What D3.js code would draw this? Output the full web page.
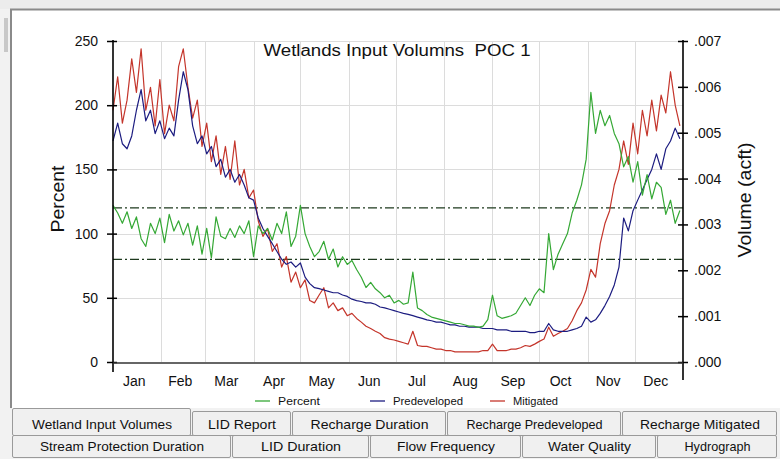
<!DOCTYPE html>
<meta charset="utf-8">
<script src="https://cdn.jsdelivr.net/npm/d3@7"></script>
<style>
  body { margin: 0; background: #f2f2f2; }
  text { font-family: "Liberation Sans", Arial, sans-serif; fill: #111; }
  .grid line { stroke: #dcdcdc; stroke-width: 1px; }
  .line { fill: none; stroke-width: 1.2px; stroke-linejoin: round; }
  .tab rect { fill: #f0f0f0; stroke: #9a9a9a; stroke-width: 1px; }
</style>
<body>
<script>

// months on the x axis (day of year where each month starts)
var months = ["Jan","Feb","Mar","Apr","May","Jun","Jul","Aug","Sep","Oct","Nov","Dec"];
var monthStart = [0,31,59,90,120,151,181,212,243,273,304,334,365];

// one value every 3 days
var percent = [122,116,108,117,104,113,96,90,108,100,112,93,115,102,110,99,108,91,106,84,
  104,81,113,98,96,104,97,106,100,110,82,106,100,104,95,108,100,117,90,98,
  122,100,90,82,86,94,80,88,74,82,76,79,72,66,58,62,57,54,50,52,
  46,48,45,46,70,42,40,37,35,34,33,32,31,30,30,29,28,28,27,28,
  33,52,36,34,35,36,38,44,50,44,52,57,54,100,72,84,92,100,116,126,
  138,158,210,178,196,184,192,178,170,152,160,140,156,130,146,127,140,136,115,126,
  108,118];

var predeveloped = [.00482,.00521,.00476,.00465,.00493,.00549,.00594,.00526,.00549,.00498,.00526,.00487,.00510,.00493,.00571,.00633,.00594,.00515,.00476,.00493,
  .00454,.00470,.00426,.00442,.00403,.00420,.00392,.00409,.00386,.00358,.00353,.00314,.00291,.00274,.00258,.00241,.00224,.00213,.00218,.00207,
  .00216,.00185,.00171,.00162,.00160,.00157,.00154,.00151,.00151,.00146,.00143,.00137,.00134,.00132,.00129,.00129,.00126,.00120,.00118,.00115,
  .00112,.00109,.00106,.00104,.00101,.00098,.00095,.00092,.00090,.00087,.00087,.00084,.00081,.00081,.00078,.00078,.00076,.00076,.00076,.00073,
  .00073,.00073,.00070,.00070,.00070,.00067,.00067,.00067,.00067,.00064,.00064,.00067,.00067,.00084,.00070,.00067,.00067,.00067,.00070,.00073,
  .00078,.00098,.00087,.00092,.00106,.00123,.00143,.00168,.00207,.00314,.00286,.00330,.00353,.00375,.00398,.00420,.00454,.00420,.00465,.00482,
  .00510,.00487];

var mitigated = [.00549,.00622,.00521,.00571,.00661,.00588,.00683,.00549,.00599,.00515,.00616,.00498,.00560,.00526,.00644,.00683,.00599,.00532,.00571,.00470,
  .00521,.00437,.00493,.00409,.00470,.00398,.00482,.00386,.00420,.00358,.00375,.00308,.00274,.00291,.00241,.00258,.00207,.00230,.00174,.00196,
  .00162,.00179,.00134,.00129,.00146,.00162,.00118,.00129,.00112,.00118,.00101,.00106,.00095,.00087,.00078,.00073,.00067,.00062,.00053,.00050,
  .00048,.00045,.00042,.00039,.00067,.00036,.00034,.00034,.00031,.00028,.00028,.00025,.00025,.00022,.00022,.00022,.00022,.00022,.00022,.00025,
  .00025,.00039,.00025,.00025,.00025,.00028,.00028,.00031,.00036,.00034,.00039,.00045,.00050,.00076,.00056,.00062,.00067,.00073,.00090,.00112,
  .00129,.00157,.00202,.00185,.00258,.00302,.00330,.00386,.00420,.00482,.00431,.00521,.00454,.00549,.00493,.00571,.00504,.00582,.00543,.00633,
  .00560,.00515];

// limit lines on the percent axis
var limits = [120, 80];

var leftTicks = [0,50,100,150,200,250];
var rightTicks = [0,.001,.002,.003,.004,.005,.006,.007];

var legendItems = ["Percent","Predeveloped","Mitigated"];
var colors = {"Percent": "#35a835", "Predeveloped": "#1c1c80", "Mitigated": "#c4352b"};

var tabsTop = ["Wetland Input Volumes","LID Report","Recharge Duration","Recharge Predeveloped","Recharge Mitigated"];
var tabsBottom = ["Stream Protection Duration","LID Duration","Flow Frequency","Water Quality","Hydrograph"];

var width = 780, height = 459;
var plotL = 113, plotR = 683, plotT = 41, plotB = 362;

var svg = d3.select("body").append("svg")
    .attr("width", width)
    .attr("height", height);

// window frame
svg.append("rect").attr("x", 0).attr("y", 0).attr("width", width).attr("height", 9).attr("fill", "#ececec");
svg.append("rect").attr("x", 4).attr("y", 18).attr("width", 4).attr("height", 34).attr("fill", "#c8c8c8");
svg.append("rect").attr("x", 11).attr("y", 9).attr("width", width - 11).attr("height", 399).attr("fill", "#fff");
svg.append("line").attr("x1", 10).attr("x2", width).attr("y1", 9.5).attr("y2", 9.5).attr("stroke", "#8a8a8a").attr("stroke-width", 2);
svg.append("line").attr("x1", 11).attr("x2", 11).attr("y1", 9).attr("y2", 408).attr("stroke", "#8a8a8a").attr("stroke-width", 2);

var x = d3.scaleLinear().domain([0, 365]).range([plotL, plotR]);
var yL = d3.scaleLinear().domain([0, 250]).range([plotB, plotT]);
var yR = d3.scaleLinear().domain([0, .007]).range([plotB, plotT]);

// grid
var grid = svg.append("g").attr("class", "grid");
grid.selectAll(".v").data(monthStart.slice(1, 12)).enter().append("line")
    .attr("x1", function(d) { return Math.round(x(d)) + .5; })
    .attr("x2", function(d) { return Math.round(x(d)) + .5; })
    .attr("y1", plotT).attr("y2", plotB);
grid.selectAll(".h").data(leftTicks.slice(1)).enter().append("line")
    .attr("x1", plotL).attr("x2", plotR)
    .attr("y1", function(d) { return Math.round(yL(d)) + .5; })
    .attr("y2", function(d) { return Math.round(yL(d)) + .5; });

// limit lines
svg.selectAll(".limit").data(limits).enter().append("line")
    .attr("x1", plotL).attr("x2", plotR)
    .attr("y1", function(d) { return yL(d); })
    .attr("y2", function(d) { return yL(d); })
    .attr("stroke", "#1e3a1e")
    .attr("stroke-width", 1.3)
    .attr("stroke-dasharray", "9,3,2,3");

// series
function day(d, i) { return x(i * 3); }
var lineR = d3.line().x(day).y(function(d) { return yR(d); });
var lineL = d3.line().x(day).y(function(d) { return yL(d); });

svg.append("path").datum(mitigated).attr("class", "line")
    .attr("stroke", colors["Mitigated"]).attr("d", lineR);
svg.append("path").datum(predeveloped).attr("class", "line")
    .attr("stroke", colors["Predeveloped"]).attr("d", lineR);
svg.append("path").datum(percent).attr("class", "line")
    .attr("stroke", colors["Percent"]).attr("d", lineL);

// axes
var axL = svg.append("g").attr("transform", "translate(" + plotL + ",0)")
    .call(d3.axisLeft(yL).tickValues(leftTicks).tickSize(6).tickPadding(9));
axL.select(".domain").remove();
axL.selectAll(".tick line").attr("x1", 4).attr("stroke", "#000").attr("stroke-width", 1.5);
axL.selectAll("text").style("font-size", "14px").attr("fill", "#222");

var axR = svg.append("g").attr("transform", "translate(" + plotR + ",0)")
    .call(d3.axisRight(yR).tickValues(rightTicks).tickSize(5).tickPadding(6)
      .tickFormat(function(d) { return d3.format(".3f")(d).replace(/^0/, ""); }));
axR.select(".domain").remove();
axR.selectAll(".tick line").attr("x1", -5).attr("stroke", "#000").attr("stroke-width", 1.5);
axR.selectAll("text").style("font-size", "14px").attr("fill", "#222");

svg.append("line").attr("x1", plotL).attr("x2", plotL).attr("y1", plotT - 1).attr("y2", 372)
    .attr("stroke", "#000").attr("stroke-width", 1.6);
svg.append("line").attr("x1", plotR).attr("x2", plotR).attr("y1", plotT - 1).attr("y2", 380)
    .attr("stroke", "#000").attr("stroke-width", 1.6);
svg.append("line").attr("x1", plotL).attr("x2", plotR).attr("y1", plotB + 1).attr("y2", plotB + 1)
    .attr("stroke", "#333").attr("stroke-width", 1.6);

// month labels
svg.selectAll(".month").data(months).enter().append("text")
    .attr("x", function(d, i) { return (x(monthStart[i]) + x(monthStart[i + 1])) / 2 - 3; })
    .attr("y", 386)
    .attr("text-anchor", "middle")
    .style("font-size", "14px")
    .attr("fill", "#222")
    .text(function(d) { return d; });

// titles
svg.append("text")
    .attr("x", 397).attr("y", 56)
    .attr("text-anchor", "middle")
    .attr("textLength", 267).attr("lengthAdjust", "spacingAndGlyphs")
    .style("font-size", "16px").style("white-space", "pre")
    .attr("fill", "#222")
    .text("Wetlands Input Volumns  POC 1");

svg.append("text")
    .attr("transform", "translate(64,199) rotate(-90)")
    .attr("text-anchor", "middle")
    .attr("textLength", 67).attr("lengthAdjust", "spacingAndGlyphs")
    .style("font-size", "18px")
    .text("Percent");

svg.append("text")
    .attr("transform", "translate(751,200) rotate(-90)")
    .attr("text-anchor", "middle")
    .attr("textLength", 115).attr("lengthAdjust", "spacingAndGlyphs")
    .style("font-size", "18px")
    .text("Volume (acft)");

// legend
var legendX = [255, 370, 490], legendW = [42, 70, 45];
var legend = svg.selectAll(".legend").data(legendItems).enter().append("g")
    .attr("transform", function(d, i) { return "translate(" + legendX[i] + ",401)"; });
legend.append("line").attr("x1", 0).attr("x2", 15)
    .attr("stroke", function(d) { return colors[d]; }).attr("stroke-width", 1.3);
legend.append("text").attr("x", 23).attr("y", 4)
    .attr("textLength", function(d, i) { return legendW[i]; })
    .attr("lengthAdjust", "spacingAndGlyphs")
    .style("font-size", "11px").attr("fill", "#333")
    .text(function(d) { return d; });

// tabs
var topEdges = [12, 192, 292, 447, 622, 778];
var bottomEdges = [12, 232, 370, 522, 657, 778];
var topTextW = [140, 68, 118, 136, 120];
var bottomTextW = [164, 80, 98, 83, 66];

function drawTabs(names, edges, widths, y0, h, selected) {
  var g = svg.append("g");
  var tab = g.selectAll(".tab").data(names).enter().append("g").attr("class", "tab");
  tab.append("rect")
      .attr("x", function(d, i) { return edges[i] + .5; })
      .attr("y", function(d, i) { return (i === selected ? y0 - 3 : y0) + .5; })
      .attr("width", function(d, i) { return edges[i + 1] - edges[i] - 2; })
      .attr("height", function(d, i) { return i === selected ? h + 3 : h; })
      .attr("rx", 1.5);
  tab.append("text")
      .attr("x", function(d, i) { return (edges[i] + edges[i + 1]) / 2; })
      .attr("y", y0 + h - 6)
      .attr("text-anchor", "middle")
      .attr("textLength", function(d, i) { return widths[i]; })
      .attr("lengthAdjust", "spacingAndGlyphs")
      .style("font-size", "13px").attr("fill", "#111")
      .text(function(d) { return d; });
}
drawTabs(tabsBottom, bottomEdges, bottomTextW, 435, 22, -1);
drawTabs(tabsTop, topEdges, topTextW, 411, 24, 0);

</script>
</body>
